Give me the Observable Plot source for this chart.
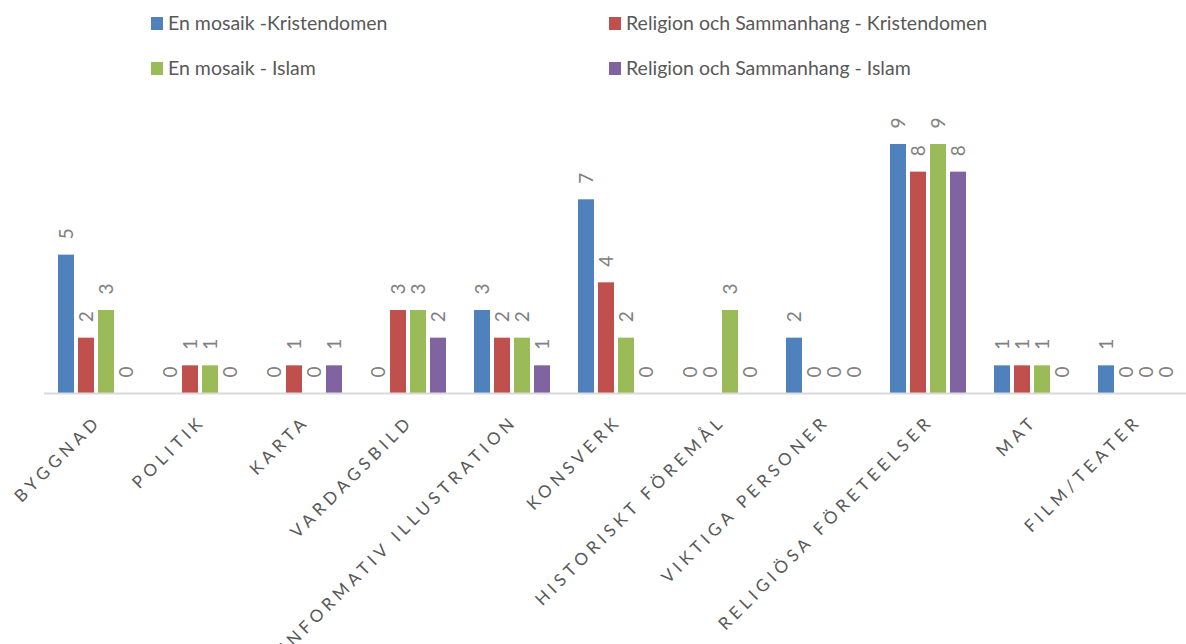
<!DOCTYPE html>
<html><head><meta charset="utf-8">
<script src="https://cdn.jsdelivr.net/npm/d3@7"></script>
<script src="https://cdn.jsdelivr.net/npm/@observablehq/plot@0.6"></script>
<style>
html,body{margin:0;padding:0;background:#fff;overflow:hidden;}
#legend{position:relative;height:90px;font-family:Lato,sans-serif;font-size:19.5px;color:#595959;}
.item{position:absolute;display:flex;align-items:center;white-space:nowrap;height:24px;line-height:24px;}
.sw{width:12px;height:13px;margin-right:5px;}
.cat-label text{letter-spacing:4.5px;}
</style></head><body>
<div id="legend"></div>
<div id="chart"></div>
<script>
const categories = ["BYGGNAD","POLITIK","KARTA","VARDAGSBILD","INFORMATIV ILLUSTRATION","KONSVERK","HISTORISKT FÖREMÅL","VIKTIGA PERSONER","RELIGIÖSA FÖRETEELSER","MAT","FILM/TEATER"];
const seriesNames = ["En mosaik -Kristendomen","Religion och Sammanhang - Kristendomen","En mosaik - Islam","Religion och Sammanhang - Islam"];
const colors = ["#4F81BD","#C0504D","#9BBB59","#8064A2"];
const enMosaikKristendomen = [5,0,0,0,3,7,0,2,9,1,1];
const religionSammanhangKristendomen = [2,1,1,3,2,4,0,0,8,1,0];
const enMosaikIslam = [3,1,0,3,2,2,3,0,9,1,0];
const religionSammanhangIslam = [0,0,1,2,1,0,0,0,8,0,0];

const seriesValues = [enMosaikKristendomen, religionSammanhangKristendomen, enMosaikIslam, religionSammanhangIslam];
const data = [];
categories.forEach((c, i) => seriesNames.forEach((s, j) => data.push({cat: c, series: s, value: seriesValues[j][i]})));

// Legend
const legend = document.getElementById("legend");
const pos = [[151, 11], [609, 11], [151, 56], [609, 56]];
seriesNames.forEach((s, j) => {
  const it = document.createElement("div");
  it.className = "item";
  it.style.left = pos[j][0] + "px";
  it.style.top = pos[j][1] + "px";
  const sw = document.createElement("span");
  sw.className = "sw";
  sw.style.background = colors[j];
  const tx = document.createElement("span");
  tx.textContent = s;
  it.appendChild(sw); it.appendChild(tx);
  legend.appendChild(it);
});

const chart = Plot.plot({
  width: 1186,
  height: 554,
  marginLeft: 40,
  marginRight: 0,
  marginTop: 26.3,
  marginBottom: 251,
  fx: {domain: categories, range: [40, 1191], paddingInner: 0, paddingOuter: 0, axis: null, label: null},
  x: {domain: seriesNames, paddingInner: 0.21, paddingOuter: 0.6, axis: null, label: null},
  y: {domain: [0, 10], axis: null, label: null},
  color: {domain: seriesNames, range: colors},
  style: {fontFamily: "Lato, sans-serif", overflow: "hidden"},
  marks: [
    Plot.barY(data, {fx: "cat", x: "series", y: "value", fill: "series"}),
    Plot.ruleY([0], {stroke: "#d9d9d9", strokeWidth: 2}),
    Plot.text(data, {fx: "cat", x: "series", y: "value", text: d => String(d.value), rotate: -90, textAnchor: "middle", lineAnchor: "middle", dy: -21.5, fill: "#808080", fontSize: 19}),
    Plot.text(categories, {fx: d => d, y: d => 0, text: d => d, rotate: -45, textAnchor: "end", lineAnchor: "middle", dx: 2, dy: 25, fill: "#595959", fontSize: 17, className: "cat-label"})
  ]
});
document.getElementById("chart").appendChild(chart);
</script>
</body></html>
